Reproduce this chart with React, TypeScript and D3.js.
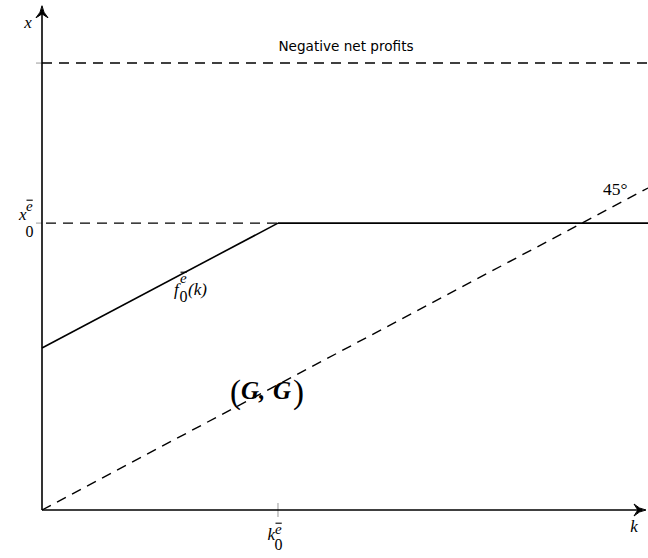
import React from "react";
import * as d3 from "d3";

// Model quantities (arbitrary units; x-axis = k, y-axis = x)
const kDomain = [0, 10];
const diagonalK = [0, 10];
const diagonalX = [0, 10];
const k0e = 3.894;
const x0e = 8.91;
const fIntercept = 5.03;
const negProfitLevel = 13.88;
const yTop = 15.66;
const kAxisEnd = 9.967;
const frontierK = [0, k0e];
const frontierX = [fIntercept, x0e];
const plateauK = [k0e, 10];

const W = 648;
const H = 558;

const xs = d3.scaleLinear().domain(kDomain).range([42, 648]);
const ys = d3.scaleLinear().domain([0, 10]).range([510, 188]);

const line = d3
  .line<[number, number]>()
  .x((d) => xs(d[0]))
  .y((d) => ys(d[1]));

const serif = "'Liberation Serif', 'DejaVu Serif', serif";
const sans = "'DejaVu Sans', 'Liberation Sans', sans-serif";

function Arrow({ x, y, dir }: { x: number; y: number; dir: "up" | "right" }) {
  // LaTeX-style arrowhead
  const p =
    dir === "up"
      ? `M${x},${y} Q${x + 1},${y + 7} ${x + 6},${y + 12} Q${x + 1},${y + 9} ${x},${y + 8} Q${x - 1},${y + 9} ${x - 6},${y + 12} Q${x - 1},${y + 7} ${x},${y} Z`
      : `M${x},${y} Q${x - 7},${y + 1} ${x - 12},${y + 6} Q${x - 9},${y + 1} ${x - 8},${y} Q${x - 9},${y - 1} ${x - 12},${y - 6} Q${x - 7},${y - 1} ${x},${y} Z`;
  return <path d={p} fill="#000" stroke="#000" strokeWidth={1} strokeLinejoin="round" />;
}

// Symbol with a barred "e" superscript and a "0" subscript
function Script({
  x,
  y,
  base,
  size,
  ss,
  dx,
  supDy,
  subDy,
  after,
  afterDx,
}: {
  x: number;
  y: number;
  base: string;
  size: number;
  ss: number;
  dx: number;
  supDy: number;
  subDy: number;
  after?: string;
  afterDx?: number;
}) {
  return (
    <g fontFamily={serif}>
      <text x={x} y={y} fontSize={size} fontStyle="italic">
        {base}
      </text>
      <text x={x + dx} y={y + supDy} fontSize={ss} fontStyle="italic">
        e
      </text>
      <line
        x1={x + dx + 0.5}
        x2={x + dx + ss * 0.45}
        y1={y + supDy - ss * 0.72}
        y2={y + supDy - ss * 0.72}
        stroke="#000"
        strokeWidth={1.1}
      />
      <text x={x + dx - 0.5} y={y + subDy} fontSize={ss + 1}>
        0
      </text>
      {after && (
        <text x={x + (afterDx ?? 0)} y={y} fontSize={size} fontStyle="italic">
          {after}
        </text>
      )}
    </g>
  );
}

export default function App() {
  return (
    <svg width={W} height={H} style={{ display: "block", position: "absolute", left: 0, top: 0 }}>
      <rect width={W} height={H} fill="#fff" />

      {/* gray ticks */}
      <g stroke="#aaa" strokeWidth={1.2}>
        <line x1={xs(0) - 6} x2={xs(0)} y1={ys(negProfitLevel)} y2={ys(negProfitLevel)} />
        <line x1={xs(0) - 6} x2={xs(0)} y1={ys(x0e)} y2={ys(x0e)} />
        <line x1={xs(k0e)} x2={xs(k0e)} y1={ys(0) - 7} y2={ys(0) + 7} />
      </g>

      {/* dashed reference levels */}
      <g stroke="#000" strokeWidth={1.4} strokeDasharray="10,7" fill="none">
        <path d={line([[0, negProfitLevel], [10, negProfitLevel]]) || ""} />
        <path d={line([[0, x0e], [k0e, x0e]]) || ""} strokeDashoffset={-4} />
        <path d={line(diagonalK.map((k, i) => [k, diagonalX[i]]) as [number, number][]) || ""} />
      </g>

      {/* frontier */}
      <g stroke="#000" strokeWidth={1.6} fill="none">
        <path d={line(frontierK.map((k, i) => [k, frontierX[i]]) as [number, number][]) || ""} />
        <path d={line(plateauK.map((k) => [k, x0e]) as [number, number][]) || ""} />
      </g>

      {/* axes */}
      <g stroke="#000" strokeWidth={1.6}>
        <line x1={xs(0)} x2={xs(0)} y1={ys(0)} y2={ys(yTop) + 4} />
        <line x1={xs(0)} x2={xs(kAxisEnd) - 4} y1={ys(0)} y2={ys(0)} />
      </g>
      <Arrow x={xs(0)} y={ys(yTop)} dir="up" />
      <Arrow x={xs(kAxisEnd)} y={ys(0)} dir="right" />

      {/* axis labels */}
      <text x={28} y={28} fontFamily={serif} fontStyle="italic" fontSize={17} textAnchor="middle">
        x
      </text>
      <text x={634} y={532} fontFamily={serif} fontStyle="italic" fontSize={17} textAnchor="middle">
        k
      </text>

      <Script x={19} y={220} base="x" size={17} ss={15} dx={7} supDy={-9} subDy={17} />
      <Script x={267.5} y={540} base="k" size={17} ss={15} dx={7.5} supDy={-6} subDy={10} />
      <Script
        x={174}
        y={295}
        base="f"
        size={17}
        ss={15}
        dx={6}
        supDy={-12}
        subDy={7}
        after="(k)"
        afterDx={14}
      />

      <text x={346} y={51} fontFamily={sans} fontSize={13.6} textAnchor="middle">
        Negative net profits
      </text>
      <text x={603} y={195} fontFamily={serif} fontSize={17.5}>
        45°
      </text>

      {/* region label */}
      <g fontFamily={serif}>
        <text x={230} y={403} fontSize={33}>
          (
        </text>
        <text x={241} y={399} fontSize={25} fontStyle="italic" fontWeight="bold">
          G,
        </text>
        <text x={273} y={399} fontSize={25} fontStyle="italic" fontWeight="bold">
          G
        </text>
        <text x={293} y={403} fontSize={33}>
          )
        </text>
      </g>
    </svg>
  );
}
